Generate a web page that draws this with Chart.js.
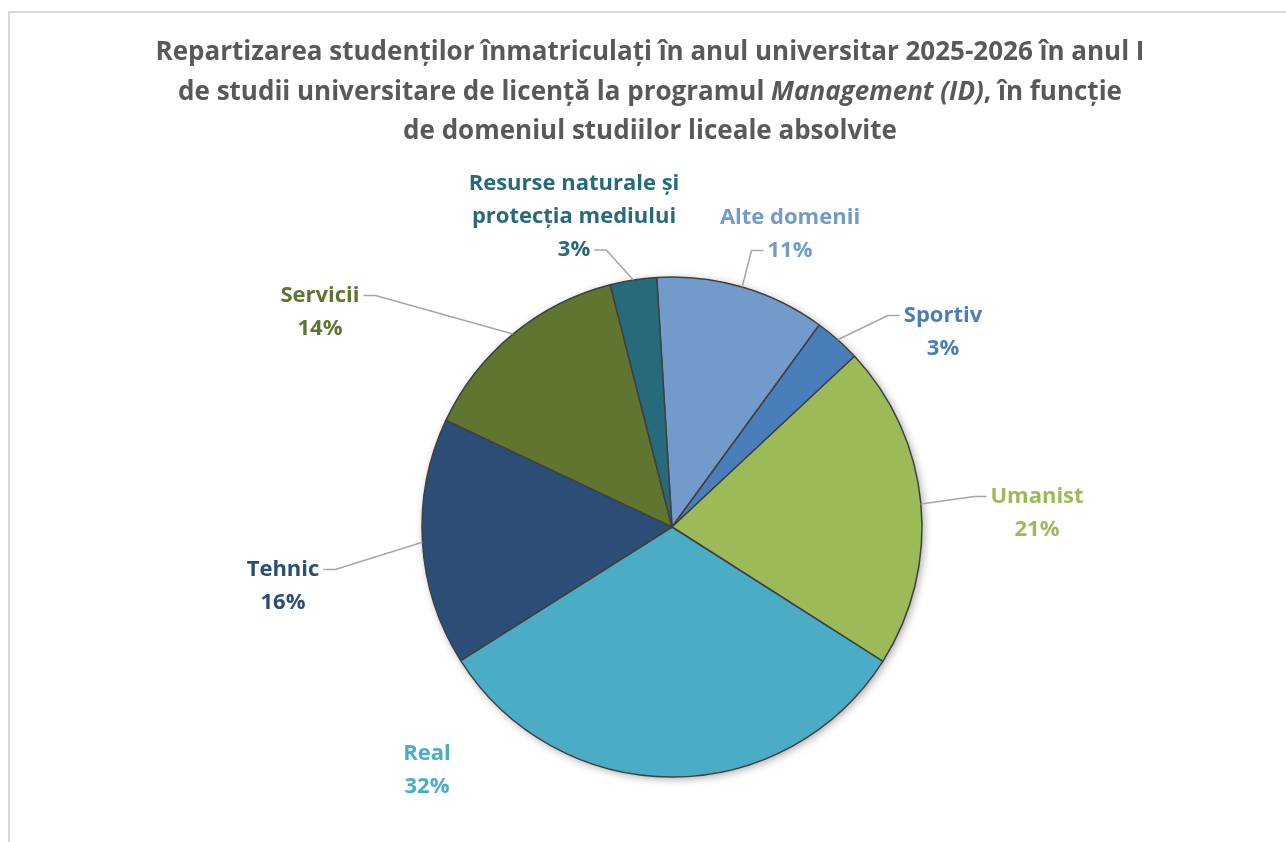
<!DOCTYPE html>
<html lang="ro">
<head>
<meta charset="UTF-8" />
<title>Repartizarea studenților - Management (ID)</title>
<style>
  body { margin: 0; background: #fff; overflow: hidden; }
  #frame { position: absolute; left: 8px; top: 11px; width: 1400px; height: 900px;
           border-top: 2px solid #d9d9d9; border-left: 2px solid #d9d9d9; }
  canvas { position: absolute; left: 0; top: 0; }
</style>
</head>
<body>

<div id="frame"></div>
<canvas id="chart" width="1286" height="842"></canvas>

<script src="https://cdn.jsdelivr.net/npm/chart.js"></script>
<script>
  // date (procente)
  const categories = ["Alte domenii", "Sportiv", "Umanist", "Real", "Tehnic", "Servicii",
                      "Resurse naturale și protecția mediului"];
  const percentages = [11, 3, 21, 32, 16, 14, 3];
  const labelLines = [["Alte domenii"], ["Sportiv"], ["Umanist"], ["Real"], ["Tehnic"], ["Servicii"],
                      ["Resurse naturale și", "protecția mediului"]];
  const sliceColors = ["#729aca", "#4a7ebb", "#9bbb59", "#4bacc6", "#2c4d75", "#5f7530", "#276a7c"];

  const titleLines = [
    [{ t: "Repartizarea studenților înmatriculați în anul universitar 2025-2026 în anul I" }],
    [{ t: "de studii universitare de licență la programul " }, { t: "Management (ID)", it: true }, { t: ", în funcție" }],
    [{ t: "de domeniul studiilor liceale absolvite" }]
  ];

  // pozitia etichetelor fata de centrul plăcintei (puse de mână, ca in Excel)
  const labelPlace = [
    { dx: 118,  dy: -293, line: 1, side: "left" },
    { dx: 271,  dy: -195, line: 0, side: "left" },
    { dx: 365,  dy: -14,  line: 0, side: "left" },
    { dx: -245, dy: 243,  line: -1 },
    { dx: -389, dy: 59,   line: 0, side: "right" },
    { dx: -352, dy: -215, line: 0, side: "right" },
    { dx: -98,  dy: -310, line: 2, side: "right" }
  ];

  const TITLE_FONT = "'Open Sans', Lato, sans-serif";
  const LABEL_FONT = "'Open Sans', Lato, sans-serif";

  // titlu desenat pe canvas (are o parte in italic)
  const titlePlugin = {
    id: "titleDraw",
    afterDraw(chart) {
      const ctx = chart.ctx;
      ctx.save();
      ctx.fillStyle = "#595959";
      ctx.textBaseline = "middle";
      ctx.textAlign = "left";
      const ys = [53, 93, 132];
      titleLines.forEach((segs, i) => {
        let total = 0;
        segs.forEach(s => {
          ctx.font = (s.it ? "italic " : "") + "bold 26px " + TITLE_FONT;
          s.w = ctx.measureText(s.t).width;
          total += s.w;
        });
        let x = 650 - total / 2;
        segs.forEach(s => {
          ctx.font = (s.it ? "italic " : "") + "bold 26px " + TITLE_FONT;
          ctx.fillText(s.t, x, ys[i]);
          x += s.w;
        });
      });
      ctx.restore();
    }
  };

  // umbra discreta sub plăcintă
  const shadowPlugin = {
    id: "pieShadow",
    beforeDatasetsDraw(chart) {
      const arc = chart.getDatasetMeta(0).data[0];
      if (!arc) return;
      const ctx = chart.ctx;
      ctx.save();
      ctx.shadowColor = "rgba(0,0,0,0.35)";
      ctx.shadowBlur = 8;
      ctx.shadowOffsetX = 2;
      ctx.shadowOffsetY = 2;
      ctx.fillStyle = "#fff";
      ctx.beginPath();
      ctx.arc(arc.x, arc.y, arc.outerRadius, 0, Math.PI * 2);
      ctx.fill();
      ctx.restore();
    }
  };

  // etichete + linii de legatura
  const labelPlugin = {
    id: "sliceLabels",
    afterDatasetsDraw(chart) {
      const ctx = chart.ctx;
      const meta = chart.getDatasetMeta(0);
      const lh = 33;
      ctx.save();
      ctx.font = "bold 22px " + LABEL_FONT;
      ctx.textAlign = "center";
      ctx.textBaseline = "middle";
      meta.data.forEach((arc, i) => {
        const p = labelPlace[i];
        const lines = labelLines[i].concat([percentages[i] + "%"]);
        const cx = arc.x + p.dx;
        const top = arc.y + p.dy - (lines.length - 1) * lh / 2;

        if (p.line >= 0) {
          const ln = lines[p.line];
          const w = ctx.measureText(ln).width;
          const ly = top + p.line * lh;
          const sx = p.side === "left" ? cx - w / 2 - 4 : cx + w / 2 + 4;
          const hx = p.side === "left" ? sx - 12 : sx + 12;
          const mid = (arc.startAngle + arc.endAngle) / 2;
          const ex = arc.x + Math.cos(mid) * arc.outerRadius;
          const ey = arc.y + Math.sin(mid) * arc.outerRadius;
          ctx.strokeStyle = "#a6a6a6";
          ctx.lineWidth = 1.5;
          ctx.beginPath();
          ctx.moveTo(sx, ly);
          ctx.lineTo(hx, ly);
          ctx.lineTo(ex, ey);
          ctx.stroke();
        }

        ctx.fillStyle = sliceColors[i];
        lines.forEach((ln, k) => ctx.fillText(ln, cx, top + k * lh));
      });
      ctx.restore();
    }
  };

  new Chart(document.getElementById("chart"), {
    type: "pie",
    data: {
      labels: categories,
      datasets: [{
        data: percentages,
        backgroundColor: sliceColors,
        borderColor: "#404040",
        borderWidth: 1.5
      }]
    },
    options: {
      responsive: false,
      devicePixelRatio: 1,
      animation: false,
      radius: 250,
      rotation: -3.5,
      layout: { padding: { left: 58, right: 0, top: 212, bottom: 0 } },
      plugins: {
        legend: { display: false },
        title: { display: false },
        tooltip: { enabled: false }
      }
    },
    plugins: [shadowPlugin, labelPlugin, titlePlugin]
  });
</script>

</body>
</html>
